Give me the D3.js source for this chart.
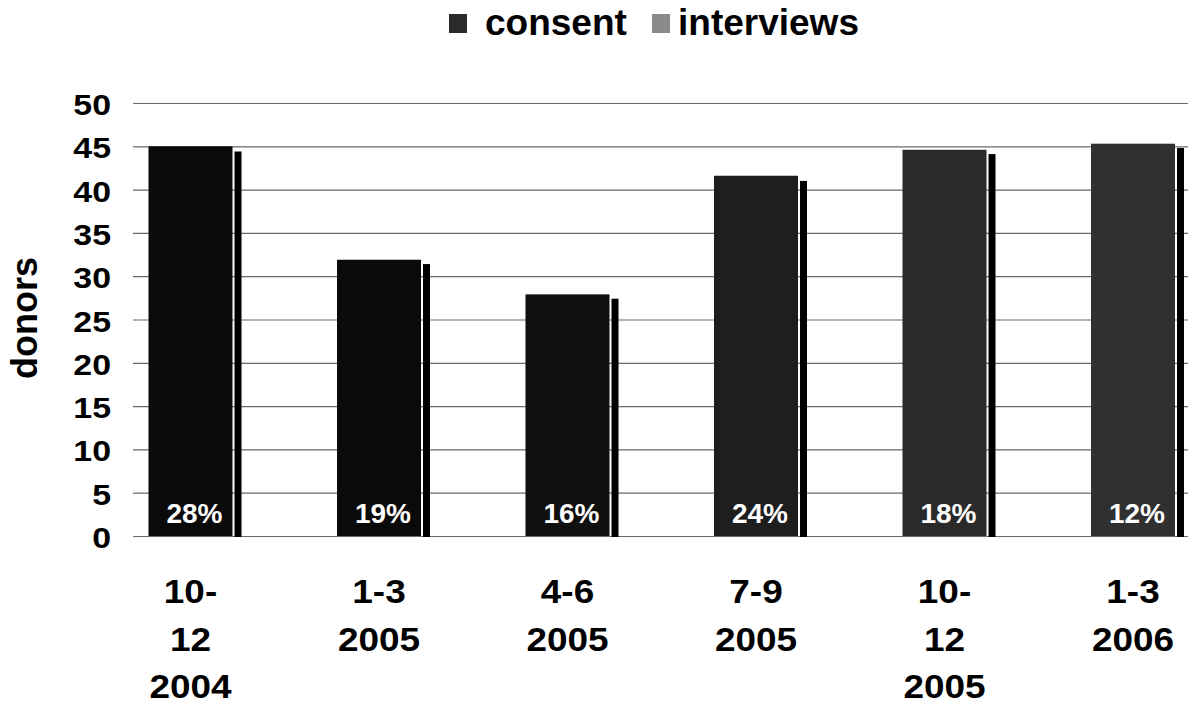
<!DOCTYPE html>
<html>
<head>
<meta charset="utf-8">
<script src="https://cdn.jsdelivr.net/npm/d3@7"></script>
<style>
  html, body { margin: 0; padding: 0; background: #fff; }
  svg { display: block; font-family: "Liberation Sans", Arial, sans-serif; font-weight: bold; }
</style>
</head>
<body>
<svg id="chart" width="1188" height="704"></svg>
<script>
// ---- data ----
const categories = ["10-12 2004", "1-3 2005", "4-6 2005", "7-9 2005", "10-12 2005", "1-3 2006"];
const categoryLines = [["10-", "12", "2004"], ["1-3", "2005"], ["4-6", "2005"], ["7-9", "2005"], ["10-", "12", "2005"], ["1-3", "2006"]];
const seriesNames = ["consent", "interviews"];
const consent = [45.0, 31.9, 27.9, 41.6, 44.6, 45.3];
const interviews = [44.4, 31.4, 27.4, 41.0, 44.1, 44.8];
const percentLabels = ["28%", "19%", "16%", "24%", "18%", "12%"];
const yTicks = [0, 5, 10, 15, 20, 25, 30, 35, 40, 45, 50];

// ---- styles ----
const barTones = ["#0a0a0a", "#0a0a0a", "#101010", "#1e1e1e", "#2a2a2a", "#303030"];
const legendColors = { consent: "#2a2a2a", interviews: "#8a8a8a" };

const svg = d3.select("#chart");

const y = d3.scaleLinear().domain([0, 50]).range([536, 103]);
const x = d3.scaleBand().domain(categories).range([96, 1227]).paddingInner(0).paddingOuter(0);
const wideOffset = 52.5, wideW = 84, gap = 2, narrowW = 7;

// gridlines
const yAxis = d3.axisLeft(y).tickValues(yTicks).tickSize(-(1188 - 133)).tickFormat("");
const gAxis = svg.append("g").attr("transform", "translate(133,0)").call(yAxis);
gAxis.select(".domain").remove();
gAxis.selectAll(".tick line").attr("stroke", "#6a6a6a").attr("stroke-width", 1.2);

// tick labels
svg.append("g").selectAll("text").data(yTicks).join("text")
  .attr("transform", d => `translate(111,${y(d) + 12}) scale(1.13,1)`)
  .attr("text-anchor", "end")
  .attr("font-size", 30)
  .attr("fill", "#000")
  .text(d => d);

// y title
svg.append("text")
  .attr("transform", "translate(37,318) rotate(-90)")
  .attr("text-anchor", "middle")
  .attr("font-size", 36)
  .attr("fill", "#000")
  .text("donors");

// interviews bars (narrow, right of consent)
svg.append("g").selectAll("rect").data(interviews).join("rect")
  .attr("x", (d, i) => x(categories[i]) + wideOffset + wideW + gap)
  .attr("y", d => y(d))
  .attr("width", narrowW)
  .attr("height", d => y(0) - y(d) + 1)
  .attr("fill", "#000");

// consent bars
svg.append("g").selectAll("rect").data(consent).join("rect")
  .attr("x", (d, i) => x(categories[i]) + wideOffset)
  .attr("y", d => y(d))
  .attr("width", wideW)
  .attr("height", d => y(0) - y(d))
  .attr("fill", (d, i) => barTones[i]);

// percent labels
svg.append("g").selectAll("text").data(percentLabels).join("text")
  .attr("x", (d, i) => x(categories[i]) + wideOffset + wideW / 2 + 4)
  .attr("y", y(0) - 13)
  .attr("text-anchor", "middle")
  .attr("font-size", 28)
  .attr("fill", "#fff")
  .text(d => d);

// x labels
const xl = svg.append("g").selectAll("g").data(categoryLines).join("g")
  .attr("transform", (d, i) => `translate(${x(categories[i]) + wideOffset + wideW / 2},0)`);
xl.selectAll("text").data(d => d).join("text")
  .attr("transform", (d, j) => `translate(0,${603 + j * 47.5}) scale(1.12,1)`)
  .attr("text-anchor", "middle")
  .attr("font-size", 33)
  .attr("fill", "#000")
  .text(d => d);

// legend
const legendPos = { consent: { sx: 449, tx: 485 }, interviews: { sx: 652, tx: 678 } };
const lg = svg.append("g").selectAll("g").data(seriesNames).join("g");
lg.append("rect")
  .attr("x", d => legendPos[d].sx).attr("y", 14)
  .attr("width", 18).attr("height", 19)
  .attr("fill", d => legendColors[d]);
lg.append("text")
  .attr("x", d => legendPos[d].tx).attr("y", 35)
  .attr("font-size", 37)
  .attr("fill", "#000")
  .text(d => d);
</script>
</body>
</html>
